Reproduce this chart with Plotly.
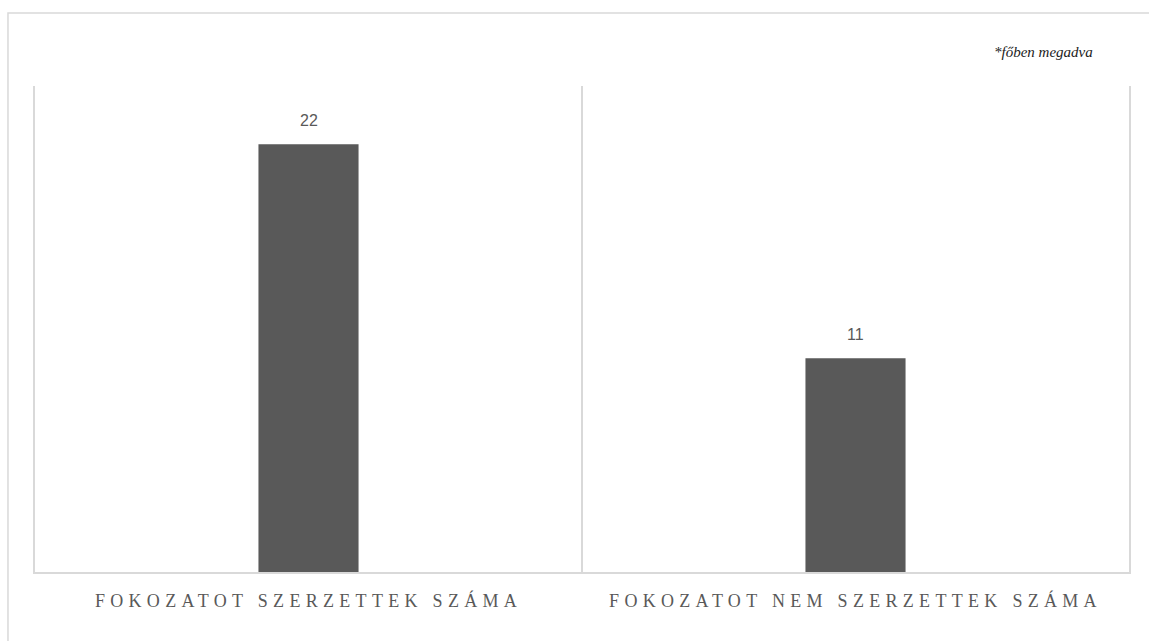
import plotly.graph_objects as go

categories = ["FOKOZATOT SZERZETTEK SZÁMA", "FOKOZATOT NEM SZERZETTEK SZÁMA"]
values = [22, 11]
note_text = "*főben megadva"

fig = go.Figure()
fig.add_trace(go.Bar(
    x=categories,
    y=values,
    marker=dict(color="#595959", line=dict(width=0)),
    width=0.183,
    hoverinfo="skip",
))

label_annotations = [
    dict(x=c, y=v, xref="x", yref="y", text=str(v), showarrow=False,
         xanchor="center", yanchor="bottom", yshift=13,
         font=dict(family="Liberation Sans, Arial, sans-serif", size=16, color="#595959"))
    for c, v in zip(categories, values)
]

fig.update_layout(
    width=1149,
    height=641,
    margin=dict(l=35, r=20, t=86, b=69),
    paper_bgcolor="white",
    plot_bgcolor="white",
    showlegend=False,
    xaxis=dict(
        type="category",
        tickson="boundaries",
        showgrid=True,
        gridcolor="#d9d9d9",
        gridwidth=1.5,
        showline=True,
        linecolor="#d9d9d9",
        linewidth=1.5,
        ticks="",
        ticklabelstandoff=12,
        tickfont=dict(family="Liberation Serif, Times New Roman, serif", size=18, color="#595959"),
        range=[-0.5, 1.5],
    ),
    yaxis=dict(
        range=[0, 25],
        showticklabels=False,
        ticks="",
        showgrid=False,
        zeroline=False,
        showline=True,
        mirror=True,
        linecolor="#d9d9d9",
        linewidth=1.5,
    ),
    shapes=[
        dict(type="rect", xref="paper", yref="paper",
             x0=-0.0247, x1=1.03, y0=-0.2, y1=1.150,
             line=dict(color="#d9d9d9", width=1.5), fillcolor="rgba(0,0,0,0)", layer="below"),
    ],
    annotations=label_annotations + [
        dict(text=note_text, xref="paper", yref="paper", x=0.969, y=1.070,
             xanchor="right", yanchor="middle", showarrow=False,
             font=dict(family="Liberation Serif, Times New Roman, serif", size=15,
                       color="#222222", style="italic")),
    ],
)

post = """
document.body.style.margin = '0';
var gd = document.getElementsByClassName('plotly-graph-div')[0];
function spaceTicks(){
  var ts = gd.querySelectorAll('.xtick text');
  ts.forEach(function(t){ t.style.letterSpacing = '5.3px'; });
}
spaceTicks();
gd.on('plotly_afterplot', spaceTicks);
"""

fig.write_html("out.html", post_script=post, config={"displayModeBar": False})
